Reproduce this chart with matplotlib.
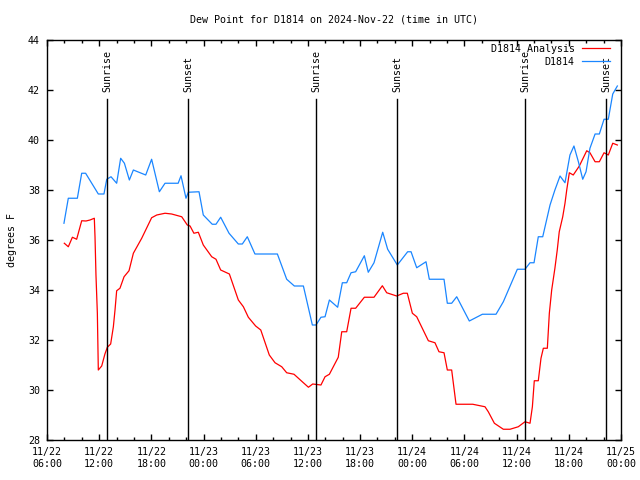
import matplotlib
matplotlib.use("Agg")
import matplotlib.pyplot as plt
import matplotlib.dates as mdates
import pandas as pd

# hours after 2024-11-22 06:00 UTC, dew point in F
obs_hours = [1.95, 2.45, 3.49, 3.99, 4.44, 5.90, 6.55, 6.87, 7.36, 8.01, 8.47, 8.90,
             9.47, 9.93, 11.35, 12.03, 12.92, 13.57, 15.08, 15.41, 15.98, 16.25, 17.48,
             17.97, 19.0, 19.43, 19.97, 20.93, 22.0, 22.46, 23.03, 23.91, 26.49, 27.56,
             28.44, 29.48, 30.51, 30.93, 31.5, 31.97, 32.47, 33.42, 33.96, 34.46, 34.96,
             35.49, 36.49, 36.94, 37.60, 38.60, 39.17, 40.28, 41.47, 41.86, 42.51, 43.58,
             43.96, 45.65, 46.03, 46.53, 47.11, 48.56, 50.06, 51.63, 52.47, 54.08, 54.96,
             55.54, 56.0, 56.49, 57.0, 57.53, 57.84, 58.4, 58.99, 59.56, 60.13, 60.59,
             61.10, 61.60, 61.98, 62.43, 63.02, 63.51, 64.05, 64.54, 65.05, 65.58]
obs_dewpt = [36.67, 37.67, 37.67, 38.67, 38.67, 37.84, 37.84, 38.43, 38.53, 38.27, 39.27, 39.07,
             38.4, 38.8, 38.6, 39.23, 37.93, 38.27, 38.27, 38.57, 37.67, 37.91, 37.93,
             37.0, 36.63, 36.63, 36.91, 36.27, 35.84, 35.84, 36.13, 35.44, 35.44, 34.43,
             34.16, 34.16, 32.6, 32.6, 32.91, 32.93, 33.6, 33.31, 34.29, 34.29, 34.69,
             34.73, 35.37, 34.71, 35.09, 36.31, 35.63, 35.0, 35.53, 35.53, 34.89, 35.13,
             34.43, 34.43, 33.47, 33.47, 33.73, 32.76, 33.03, 33.03, 33.53, 34.83, 34.83,
             35.09, 35.09, 36.13, 36.13, 36.93, 37.4, 38.0, 38.56, 38.29, 39.4, 39.76,
             39.13, 38.43, 38.73, 39.67, 40.24, 40.24, 40.83, 40.83, 41.84, 42.16]

ana_hours = [1.99, 2.45, 2.92, 3.41, 3.99, 4.48, 4.95, 5.44, 5.52, 5.63, 5.79, 5.90, 6.29,
             6.66, 6.94, 7.32, 7.63, 7.82, 8.01, 8.39, 8.86, 9.43, 9.93, 10.89, 12.03,
             12.62, 13.57, 14.33, 15.49, 16.13, 16.45, 16.89, 17.40, 17.97, 18.94, 19.43,
             19.97, 20.97, 22.0, 22.58, 23.15, 23.99, 24.58, 25.56, 26.22, 26.99, 27.56,
             28.40, 29.48, 30.06, 30.55, 31.5, 31.97, 32.47, 33.49, 33.89, 34.46, 34.96,
             35.49, 36.49, 37.60, 38.56, 39.06, 40.21, 40.97, 41.43, 42.01, 42.51, 43.85,
             44.61, 45.07, 45.65, 46.03, 46.53, 47.03, 48.95, 50.36, 50.74, 51.44, 52.47,
             53.24, 54.19, 54.96, 55.54, 55.81, 56.03, 56.49, 56.80, 57.07, 57.53, 57.76,
             58.03, 58.4, 58.67, 58.90, 59.30, 59.56, 59.76, 60.06, 60.51, 61.21, 62.06,
             62.43, 63.02, 63.51, 64.05, 64.54, 65.05, 65.58]
ana_dewpt = [35.87, 35.73, 36.11, 36.03, 36.77, 36.76, 36.8, 36.87, 36.13, 34.6, 33.07, 30.8, 30.96,
             31.44, 31.71, 31.84, 32.53, 33.2, 33.97, 34.07, 34.53, 34.77, 35.47, 36.07, 36.89,
             37.0, 37.07, 37.04, 36.93, 36.6, 36.56, 36.27, 36.31, 35.8, 35.33, 35.23,
             34.8, 34.64, 33.6, 33.33, 32.91, 32.56, 32.4, 31.4, 31.09, 30.93, 30.69,
             30.63, 30.29, 30.11, 30.24, 30.2, 30.53, 30.63, 31.31, 32.33, 32.33, 33.27,
             33.27, 33.71, 33.71, 34.17, 33.89, 33.76, 33.87, 33.87, 33.07, 32.93, 31.97,
             31.89, 31.53, 31.49, 30.8, 30.8, 29.43, 29.43, 29.33, 29.13, 28.67, 28.43,
             28.43, 28.53, 28.73, 28.67, 29.33, 30.37, 30.37, 31.27, 31.67, 31.67, 33.07,
             34.0, 34.87, 35.6, 36.33, 36.93, 37.47, 38.0, 38.69, 38.6, 38.96, 39.57,
             39.49, 39.13, 39.13, 39.49, 39.4, 39.87, 39.8]

sun_times = ["2024-11-22 12:57", "2024-11-22 22:15", "2024-11-23 12:58",
             "2024-11-23 22:16", "2024-11-24 12:59", "2024-11-24 22:17"]
sun_labels = ["Sunrise", "Sunset", "Sunrise", "Sunset", "Sunrise", "Sunset"]

start = pd.Timestamp("2024-11-22 06:00")
end = pd.Timestamp("2024-11-25 00:00")
obs_t = start + pd.to_timedelta(obs_hours, unit="h")
ana_t = start + pd.to_timedelta(ana_hours, unit="h")

plt.rcParams["font.family"] = ["DejaVu Sans Mono"]
plt.rcParams["font.size"] = 7.2

fig = plt.figure(figsize=(6.4, 4.8), dpi=100)
ax = fig.add_axes([47 / 640, 40 / 480, 574 / 640, 400 / 480])

ax.plot(ana_t, ana_dewpt, color="#ff0000", lw=0.9, label="D1814 Analysis")
ax.plot(obs_t, obs_dewpt, color="#1a86ff", lw=0.9, label="D1814")

for t, lab in zip(sun_times, sun_labels):
    ts = pd.Timestamp(t)
    ax.axvline(ts, ymin=0, ymax=0.852, color="black", lw=1.0)
    ax.text(ts, 41.93, lab, rotation=90, ha="center", va="bottom", fontsize=7.2)

ax.set_xlim(start, end)
ax.set_ylim(28, 44)
ax.set_yticks(range(28, 45, 2))
ax.xaxis.set_major_locator(mdates.HourLocator(byhour=[0, 6, 12, 18]))
ax.xaxis.set_minor_locator(mdates.HourLocator(interval=2))
ax.xaxis.set_major_formatter(mdates.DateFormatter("%m/%d\n%H:%M"))

ax.tick_params(which="both", direction="in", top=True, right=True, width=1.0)
ax.tick_params(which="major", length=4, pad=5)
ax.tick_params(which="minor", length=2)
for s in ax.spines.values():
    s.set_linewidth(1.0)

ax.set_ylabel("degrees F", labelpad=8)
fig.text(0.522, 1 - 19 / 480, "Dew Point for D1814 on 2024-Nov-22 (time in UTC)",
         ha="center", va="center")

ax.legend(loc="upper right", bbox_to_anchor=(0.981, 0.99), markerfirst=False,
          frameon=False, borderaxespad=0, borderpad=0, handlelength=2.8,
          handletextpad=0.75, labelspacing=0.3)

plt.savefig("out.png", dpi=100)
